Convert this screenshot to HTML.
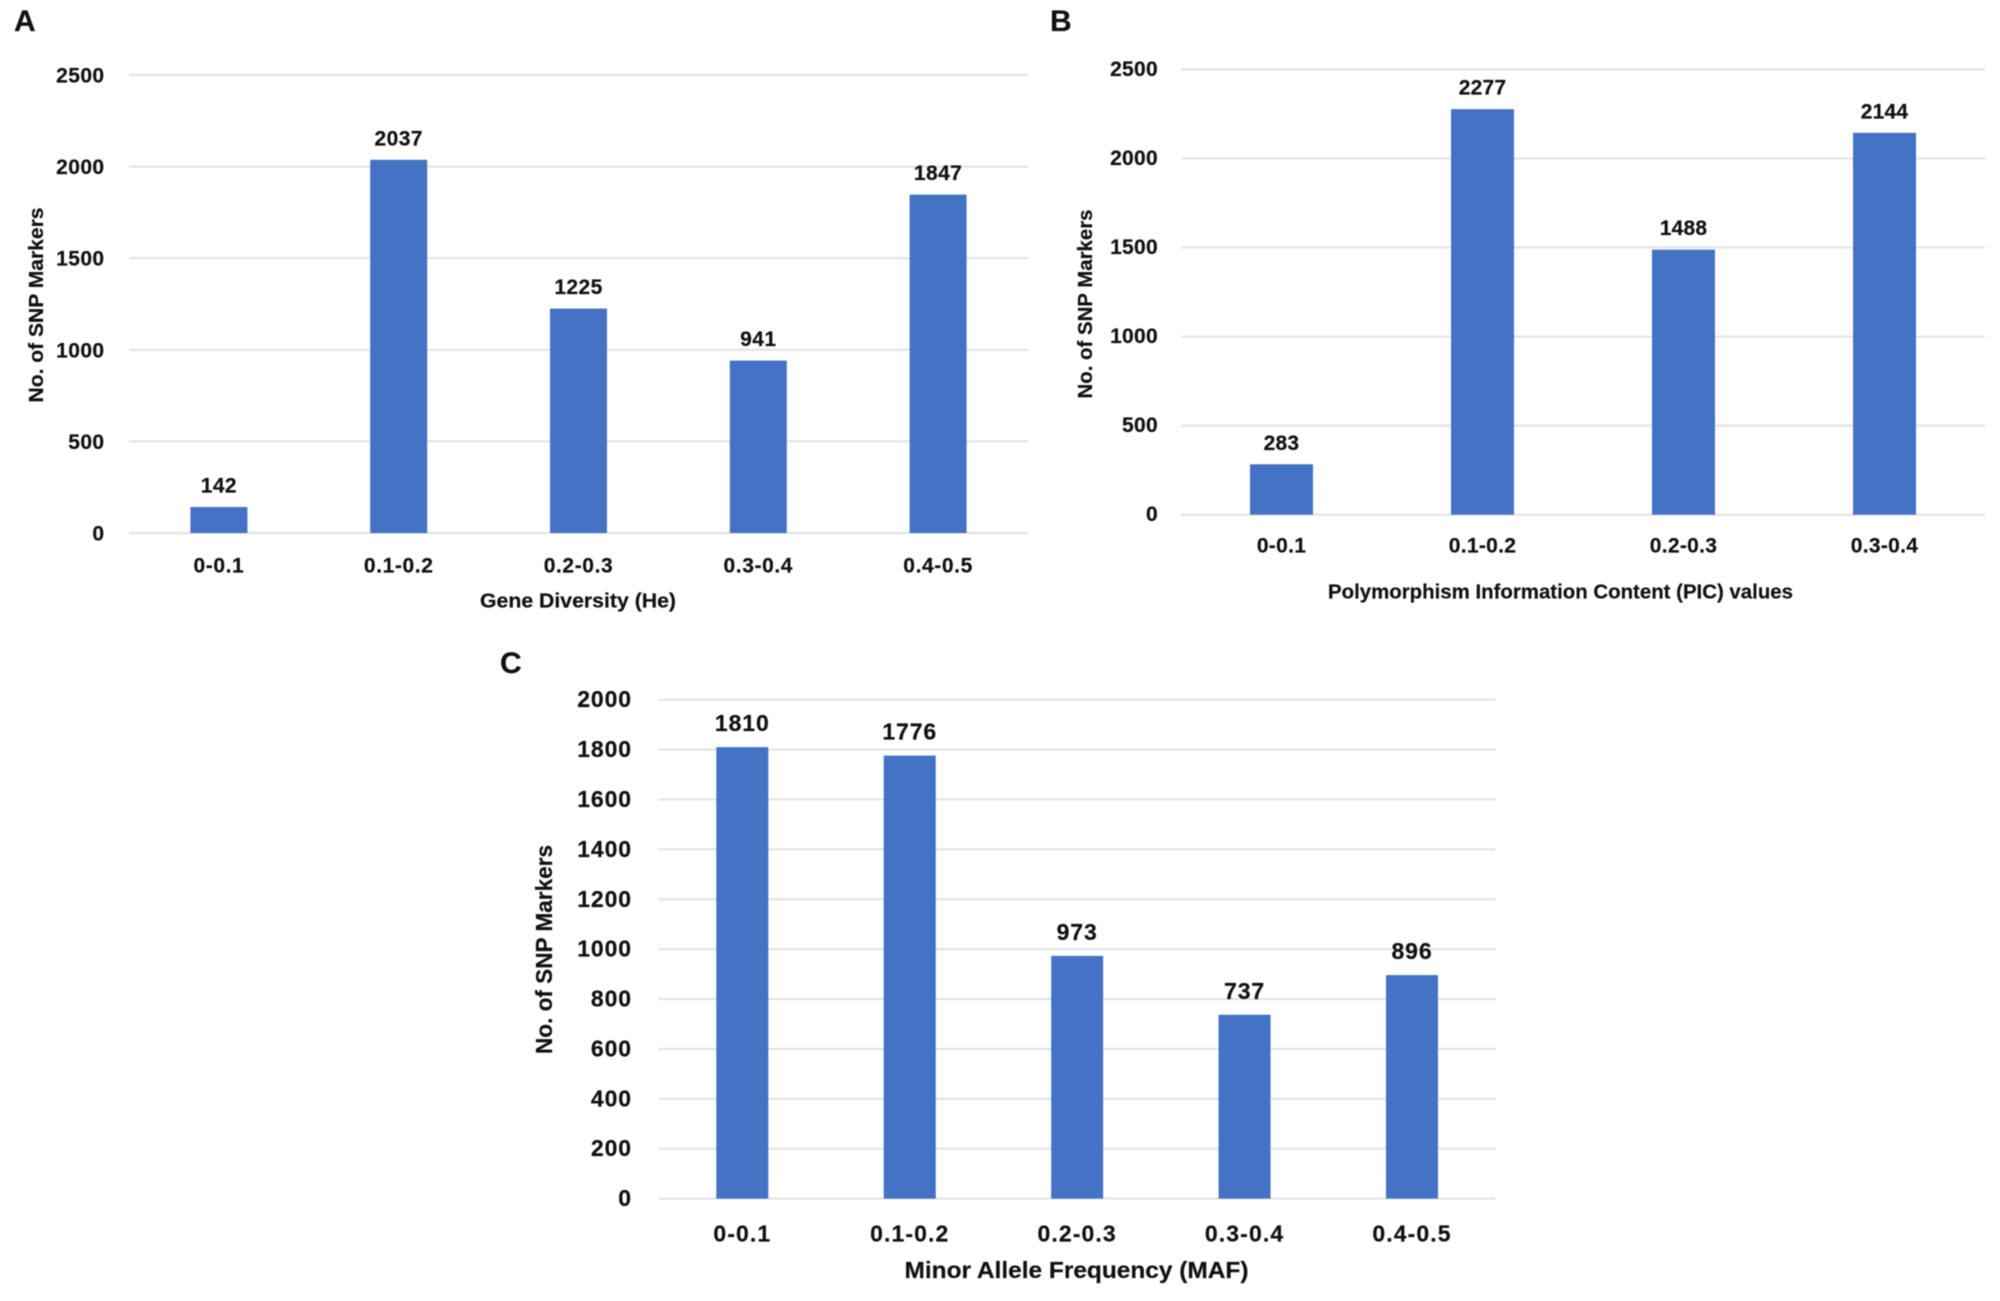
<!DOCTYPE html>
<html lang="en">
<head>
<meta charset="utf-8">
<title>SNP marker distributions</title>
<style>
  html, body { margin: 0; padding: 0; background: #fff; }
  svg { display: block; filter: blur(0.4px); }
  text { font-family: "Liberation Sans", sans-serif; font-weight: 700; fill: #111; stroke: #111; stroke-width: 0.2px; }
</style>
</head>
<body>
<svg id="figure" xmlns="http://www.w3.org/2000/svg" width="2000" height="1301" viewBox="0 0 2000 1301">
  <rect x="0" y="0" width="2000" height="1301" fill="#ffffff"/>

  <g id="chart-a"></g>
  <g id="chart-b"></g>
  <g id="chart-c"></g>

  <text x="14" y="31" font-size="30">A</text>
  <text x="1050" y="31" font-size="30">B</text>
  <text x="500" y="673" font-size="30">C</text>

  <text x="578" y="607.5" font-size="20" text-anchor="middle" textLength="196" lengthAdjust="spacingAndGlyphs">Gene Diversity (He)</text>
  <text transform="translate(43,305) rotate(-90)" font-size="20" text-anchor="middle" textLength="195" lengthAdjust="spacingAndGlyphs">No. of SNP Markers</text>

  <text x="1560.5" y="598.5" font-size="20" text-anchor="middle" textLength="465" lengthAdjust="spacingAndGlyphs">Polymorphism Information Content (PIC) values</text>
  <text transform="translate(1092,304) rotate(-90)" font-size="20" text-anchor="middle" textLength="189" lengthAdjust="spacingAndGlyphs">No. of SNP Markers</text>

  <text x="1076.5" y="1278" font-size="23" text-anchor="middle" textLength="344" lengthAdjust="spacingAndGlyphs">Minor Allele Frequency (MAF)</text>
  <text transform="translate(552,949.5) rotate(-90)" font-size="23" text-anchor="middle" textLength="209" lengthAdjust="spacingAndGlyphs">No. of SNP Markers</text>
</svg>

<script>
var categoriesA = ["0-0.1", "0.1-0.2", "0.2-0.3", "0.3-0.4", "0.4-0.5"];
var valuesA = [142, 2037, 1225, 941, 1847];
var ticksA = [0, 500, 1000, 1500, 2000, 2500];

var categoriesB = ["0-0.1", "0.1-0.2", "0.2-0.3", "0.3-0.4"];
var valuesB = [283, 2277, 1488, 2144];
var ticksB = [0, 500, 1000, 1500, 2000, 2500];

var categoriesC = ["0-0.1", "0.1-0.2", "0.2-0.3", "0.3-0.4", "0.4-0.5"];
var valuesC = [1810, 1776, 973, 737, 896];
var ticksC = [0, 200, 400, 600, 800, 1000, 1200, 1400, 1600, 1800, 2000];

var SVG_NS = "http://www.w3.org/2000/svg";

function makeNode(tag, parent, attrs, content) {
  var node = document.createElementNS(SVG_NS, tag);
  Object.keys(attrs).forEach(function (key) { node.setAttribute(key, attrs[key]); });
  if (content !== undefined) { node.textContent = content; }
  parent.appendChild(node);
  return node;
}

function drawChart(groupId, categories, values, ticks, layout) {
  var group = document.getElementById(groupId);
  var maxTick = Math.max.apply(null, ticks);
  var band = (layout.right - layout.left) / categories.length;

  function yScale(v) {
    return layout.bottom - (v / maxTick) * (layout.bottom - layout.top);
  }
  function xScale(i) {
    return layout.left + band * (i + 0.5);
  }

  ticks.forEach(function (tick) {
    var y = yScale(tick);
    var grid = makeNode("rect", group, {
      x: layout.left, y: y - 1, width: layout.right - layout.left, height: 2, fill: "#e2e2e2"
    });
    
    
    var label = makeNode("text", group, {
      x: layout.tickX, y: y + layout.tickOffset, "font-size": layout.tickFont,
      "text-anchor": "end", "letter-spacing": layout.tickSpacing
    }, String(tick));
    
    
  });

  categories.forEach(function (category, i) {
    var cx = xScale(i);
    var top = yScale(values[i]);
    var bar = makeNode("rect", group, {
      x: cx - layout.barWidth / 2, y: top, width: layout.barWidth,
      height: layout.bottom - top, fill: "#4472c4"
    });
    
    
    var valueLabel = makeNode("text", group, {
      x: cx, y: top - layout.valueGap, "font-size": layout.valueFont,
      "text-anchor": "middle", "letter-spacing": layout.valueSpacing
    }, String(values[i]));
    
    
    var catLabel = makeNode("text", group, {
      x: cx, y: layout.catY, "font-size": layout.catFont,
      "text-anchor": "middle", "letter-spacing": layout.catSpacing
    }, category);
    
    
  });
}

drawChart("chart-a", categoriesA, valuesA, ticksA, {
  left: 129, right: 1028, top: 75, bottom: 533, barWidth: 57,
  tickX: 104.5, tickOffset: 7.5, tickFont: 21, tickSpacing: 0.4,
  catY: 572.5, catFont: 21, catSpacing: 0.6,
  valueGap: 14.5, valueFont: 21, valueSpacing: 0.4
});

drawChart("chart-b", categoriesB, valuesB, ticksB, {
  left: 1181, right: 1985, top: 69.4, bottom: 514.7, barWidth: 63,
  tickX: 1158, tickOffset: 6.5, tickFont: 21, tickSpacing: 0.3,
  catY: 552.5, catFont: 21, catSpacing: 0.3,
  valueGap: 14.5, valueFont: 21, valueSpacing: 0.2
});

drawChart("chart-c", categoriesC, valuesC, ticksC, {
  left: 658.6, right: 1495.7, top: 699.7, bottom: 1198.6, barWidth: 52,
  tickX: 632, tickOffset: 7.5, tickFont: 23, tickSpacing: 0.9,
  catY: 1241.5, catFont: 23, catSpacing: 1.1,
  valueGap: 16, valueFont: 23, valueSpacing: 0.9
});
</script>
</body>
</html>
